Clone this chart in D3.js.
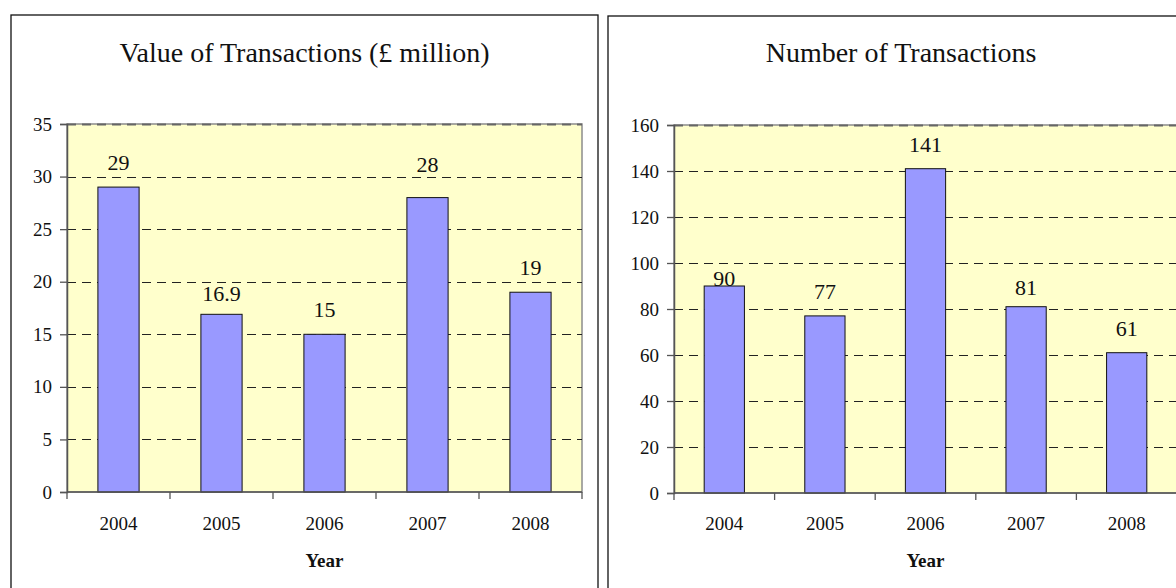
<!DOCTYPE html>
<html>
<head>
<meta charset="utf-8">
<script src="https://cdn.jsdelivr.net/npm/d3@7"></script>
<style>
  html, body { margin: 0; padding: 0; background: #fff; }
  svg.vis { display: block; font-family: "Liberation Serif", "Times New Roman", serif; }
</style>
</head>
<body>
<svg class="vis" width="1176" height="588"></svg>
<script>

// data
const years = ["2004", "2005", "2006", "2007", "2008"];

const value_millions = [29, 16.9, 15, 28, 19];
const value_ticks = [0, 5, 10, 15, 20, 25, 30, 35];

const transaction_counts = [90, 77, 141, 81, 61];
const count_ticks = [0, 20, 40, 60, 80, 100, 120, 140, 160];

const vis = {

    refs: {
        svg: "svg.vis"
    },

    sels: {
        svg: null
    },

    font: "'Liberation Serif', 'Times New Roman', serif",

    colors: {
        plot_bg: "#ffffcc",
        bar: "#9999ff",
        grid: "#222",
        plot_border: "#8c8c8c",
        axis: "#555"
    },

    charts: [
        {
            title: "Value of Transactions (£ million)",
            values: value_millions,
            ticks: value_ticks,
            box:  { x: 11, y: 15, w: 587 },
            plot: { x: 67, y: 124, w: 515, h: 368 },
            // label nudges where the original labels sit off the usual spot
            nudge: { "2007": -9, "2005": 4 }
        },
        {
            title: "Number of Transactions",
            values: transaction_counts,
            ticks: count_ticks,
            box:  { x: 608, y: 16, w: 586 },
            plot: { x: 674, y: 125, w: 503, h: 368 },
            nudge: { "2004": 17, "2007": 5 }
        }
    ],

    init: function() {

        vis.sels.svg = d3.select(vis.refs.svg);
        vis.charts.forEach(chart => vis.draw.chart(chart));

    },

    draw: {

        chart: function(chart) {

            const svg = vis.sels.svg;
            const p = chart.plot;
            const g = svg.append("g").attr("font-family", vis.font);

            const x_cat = d3.scaleBand()
              .domain(years)
              .range([p.x, p.x + p.w]);

            const x_bar = d3.scaleBand()
              .domain(years)
              .range([p.x, p.x + p.w])
              .paddingInner(0.6)
              .paddingOuter(0.3);

            const y = d3.scaleLinear()
              .domain(d3.extent(chart.ticks))
              .range([p.y + p.h, p.y]);

            // outer frame
            g.append("rect")
              .attr("x", chart.box.x)
              .attr("y", chart.box.y)
              .attr("width", chart.box.w)
              .attr("height", 620)
              .attr("fill", "#fff")
              .attr("stroke", "#111")
              .attr("stroke-width", 1.3);

            g.append("text")
              .attr("x", chart.box.x + chart.box.w / 2)
              .attr("y", 62)
              .attr("text-anchor", "middle")
              .attr("font-size", 28)
              .attr("fill", "#111")
              .text(chart.title);

            // plot area
            g.append("rect")
              .attr("x", p.x)
              .attr("y", p.y)
              .attr("width", p.w)
              .attr("height", p.h)
              .attr("fill", vis.colors.plot_bg)
              .attr("stroke", vis.colors.plot_border)
              .attr("stroke-width", 1.5);

            // gridlines
            g.selectAll("line.grid")
              .data(chart.ticks.slice(1))
              .join("line")
              .attr("class", "grid")
              .attr("x1", p.x)
              .attr("x2", p.x + p.w)
              .attr("y1", d => Math.round(y(d)) + 0.5)
              .attr("y2", d => Math.round(y(d)) + 0.5)
              .attr("stroke", (d, i, n) => i === n.length - 1 ? "#666" : vis.colors.grid)
              .attr("stroke-width", (d, i, n) => i === n.length - 1 ? 2 : 1)
              .attr("stroke-dasharray", "9,6");

            // bars
            g.selectAll("rect.bar")
              .data(chart.values)
              .join("rect")
              .attr("class", "bar")
              .attr("x", (d, i) => x_bar(years[i]))
              .attr("y", d => y(d))
              .attr("width", x_bar.bandwidth())
              .attr("height", d => y(0) - y(d))
              .attr("fill", vis.colors.bar)
              .attr("stroke", "#111")
              .attr("stroke-width", 1);

            // data labels
            g.selectAll("text.lbl")
              .data(chart.values)
              .join("text")
              .attr("class", "lbl")
              .attr("x", (d, i) => x_bar(years[i]) + x_bar.bandwidth() / 2)
              .attr("y", (d, i) => y(d) - 17 + (chart.nudge[years[i]] || 0))
              .attr("text-anchor", "middle")
              .attr("font-size", 22)
              .attr("fill", "#111")
              .text(d => d);

            // y axis
            const y_axis = d3.axisLeft(y)
              .tickValues(chart.ticks)
              .tickSize(7)
              .tickPadding(8);

            const gy = g.append("g")
              .attr("transform", `translate(${p.x},0)`)
              .call(y_axis)
              .attr("font-family", vis.font);

            gy.select(".domain").attr("stroke", vis.colors.axis).attr("stroke-width", 1.5);
            gy.selectAll(".tick line").attr("stroke", vis.colors.axis).attr("stroke-width", 1.3);
            gy.selectAll(".tick text")
              .attr("font-size", 19)
              .attr("fill", "#111");

            // x axis: ticks sit between categories
            const boundaries = years.map(d => x_cat(d)).concat([p.x + p.w]);

            g.append("line")
              .attr("x1", p.x)
              .attr("x2", p.x + p.w)
              .attr("y1", y(0))
              .attr("y2", y(0))
              .attr("stroke", vis.colors.axis)
              .attr("stroke-width", 1.5);

            g.selectAll("line.xtick")
              .data(boundaries)
              .join("line")
              .attr("class", "xtick")
              .attr("x1", d => d)
              .attr("x2", d => d)
              .attr("y1", y(0))
              .attr("y2", y(0) + 7)
              .attr("stroke", vis.colors.axis)
              .attr("stroke-width", 1.3);

            g.selectAll("text.xlbl")
              .data(years)
              .join("text")
              .attr("class", "xlbl")
              .attr("x", d => x_cat(d) + x_cat.bandwidth() / 2)
              .attr("y", 530)
              .attr("text-anchor", "middle")
              .attr("font-size", 19)
              .attr("fill", "#111")
              .text(d => d);

            g.append("text")
              .attr("x", p.x + p.w / 2)
              .attr("y", 567)
              .attr("text-anchor", "middle")
              .attr("font-size", 19)
              .attr("font-weight", "bold")
              .attr("fill", "#111")
              .text("Year");

        }

    }

};

vis.init();

</script>
</body>
</html>
